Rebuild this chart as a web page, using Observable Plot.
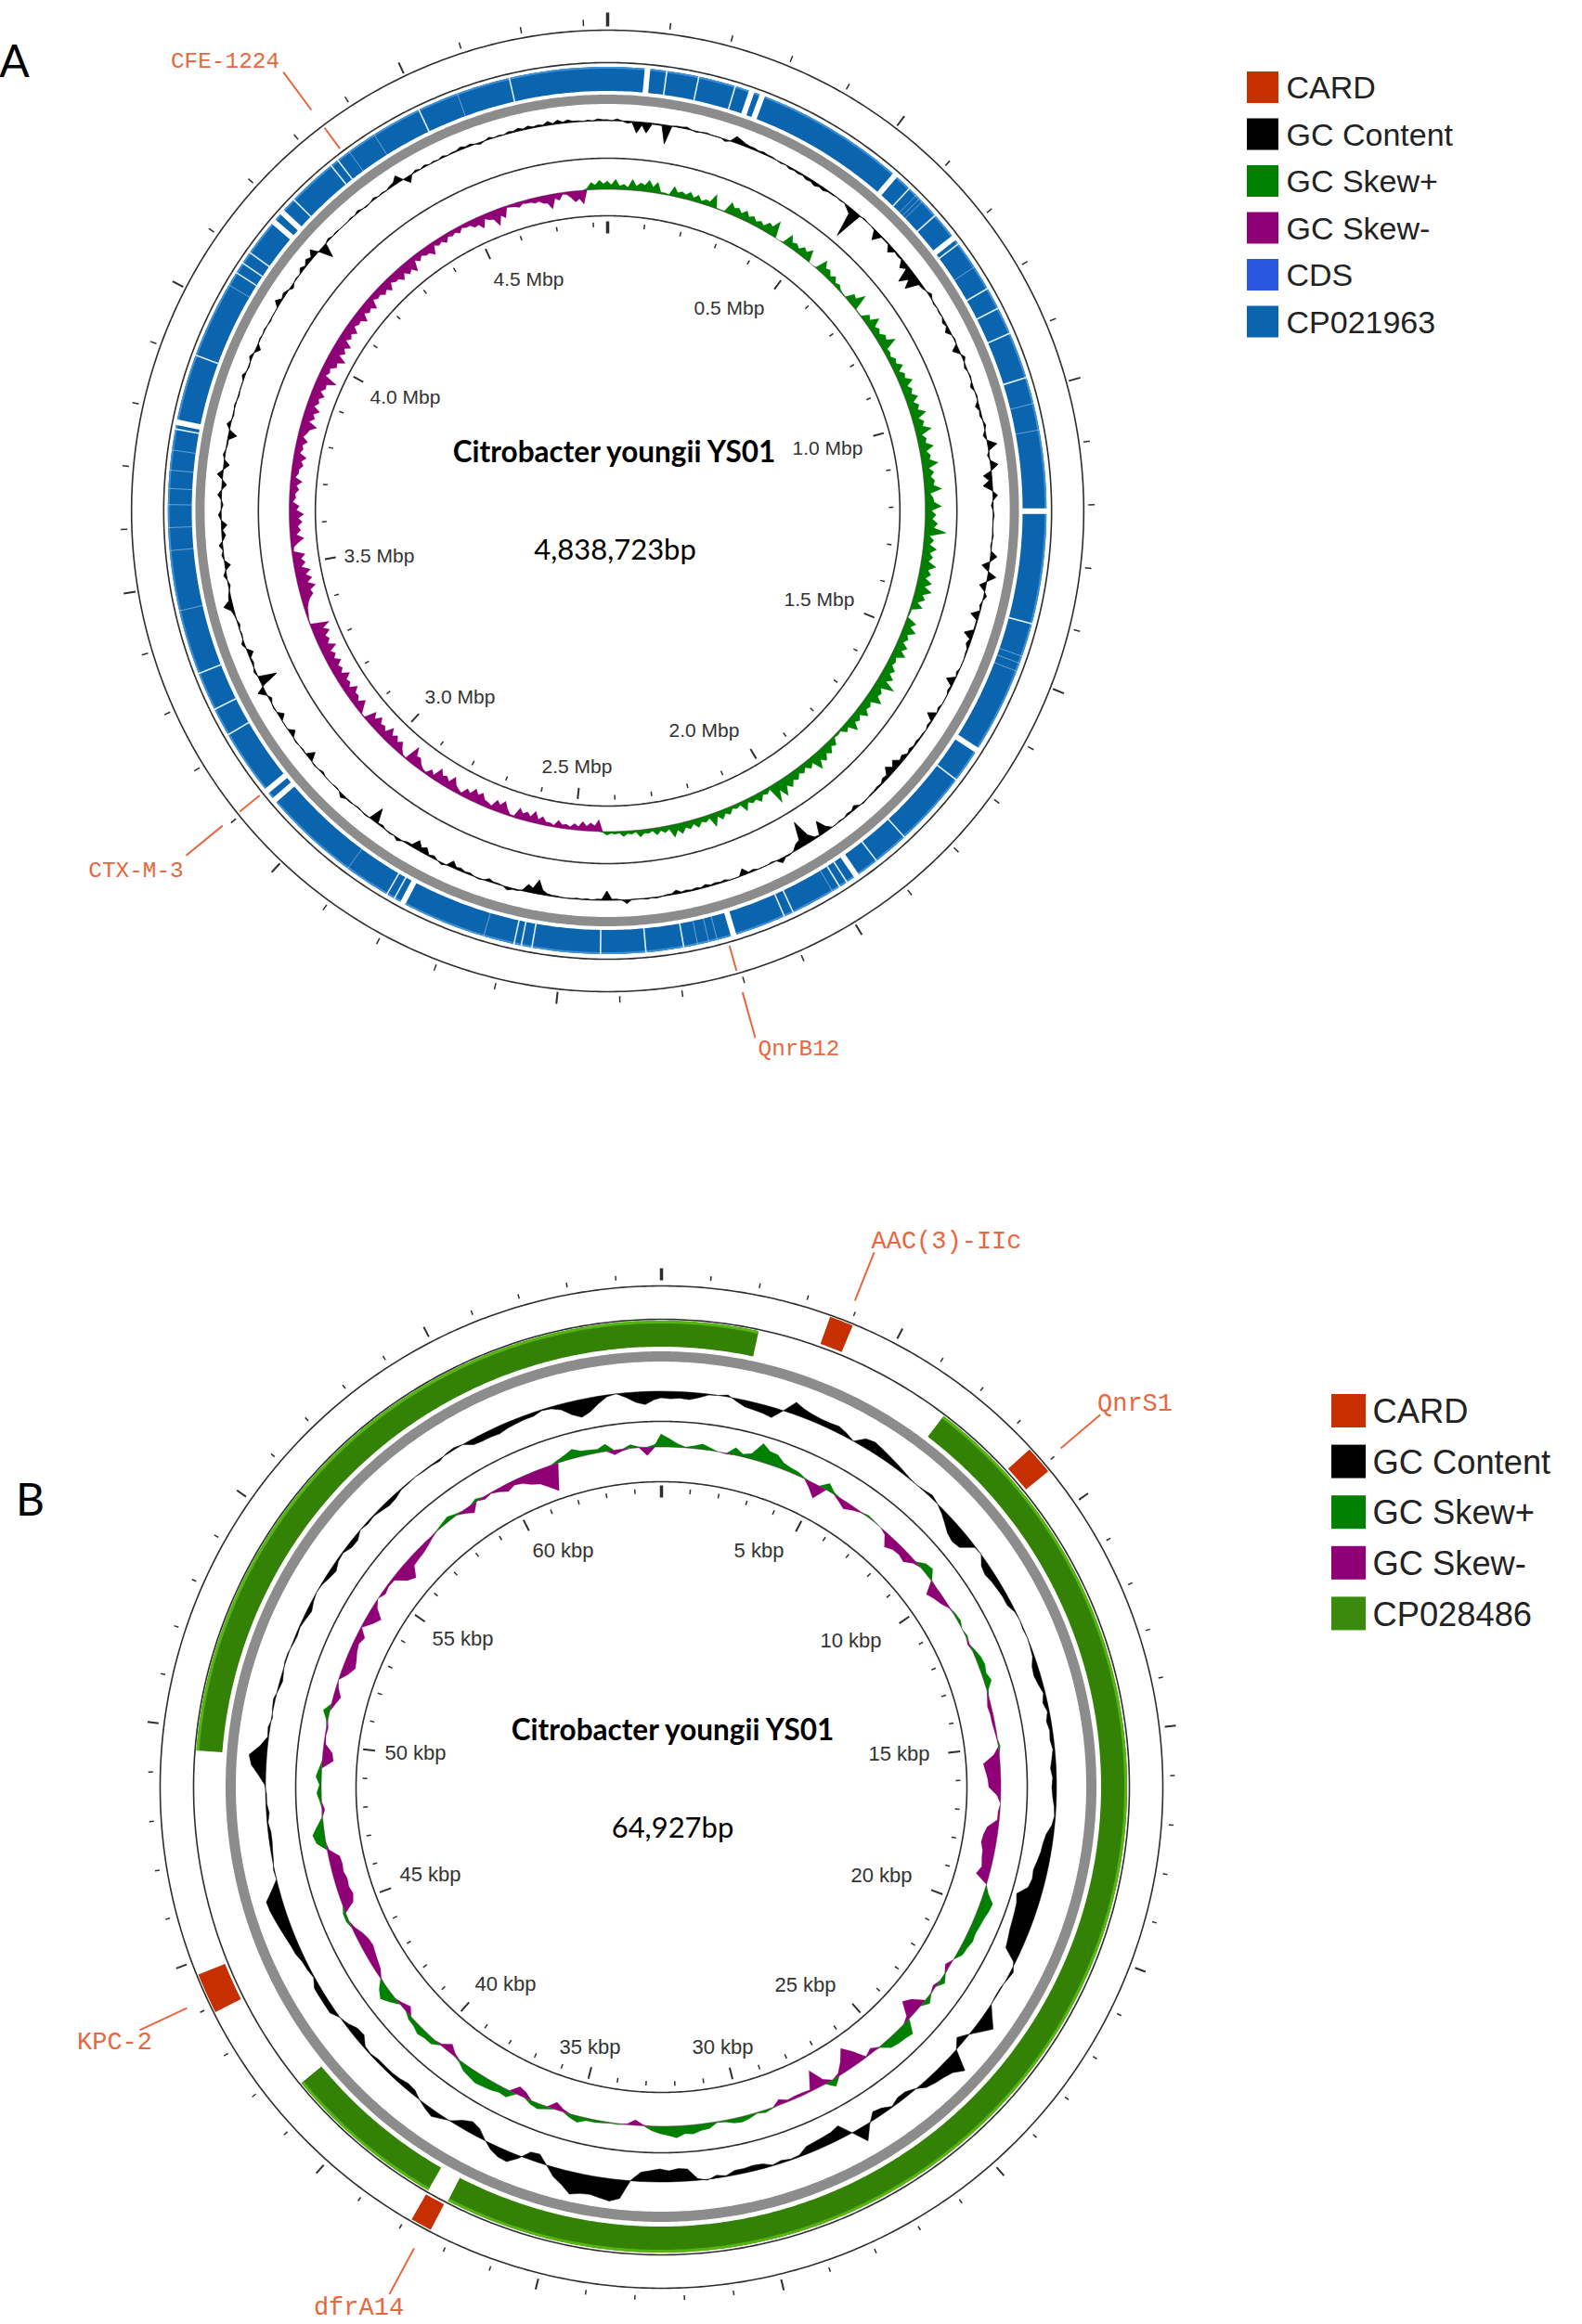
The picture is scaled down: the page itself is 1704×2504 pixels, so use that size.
<!DOCTYPE html>
<html>
<head>
<meta charset="utf-8">
<script src="https://cdn.jsdelivr.net/npm/d3@7"></script>
<script src="https://cdn.jsdelivr.net/npm/@observablehq/plot@0.6"></script>
<style>html,body{margin:0;padding:0;background:#fff}svg{display:block}</style>
</head>
<body>
<div id="chart"></div>
<script>
// ---------- Genome A: peaks per 20 kbp and the troughs that lie between them ----------
const lengthA = 4838.723;
const binA = 10;
const skewPeaksA = [9,11,6,12,9,13,12,2,11,7,9,8,6,15,1,13,10,11,9,8,11,18,0,13,8,10,13,0,14,9,8,5,1,10,18,1,9,15,9,11,18,6,8,12,10,15,11,14,12,17,12,18,10,16,11,18,12,12,19,9,18,12,14,24,11,15,12,17,13,16,18,13,13,2,12,15,10,13,15,8,12,15,22,12,18,10,14,10,15,8,3,9,12,14,18,10,9,11,14,19,22,6,10,7,12,5,8,10,15,7,10,9,12,14,7,8,5,8,4,6,3,4,
-13,-9,-10,-7,-5,-8,-4,-9,-13,-10,-12,-2,-14,-12,-6,-13,-14,-10,-5,-15,-11,-15,-8,-3,-11,-19,-2,-12,-13,-16,-11,-15,-14,-1,-13,-10,-15,-11,-16,-12,-15,-13,-18,-14,-18,-21,-1,-3,-6,-14,-19,-17,-17,-13,-14,-3,-15,-12,-14,-16,-11,-7,-10,-13,-8,-12,-14,-9,-12,-9,-18,-13,-16,-12,-15,-13,-22,-10,-14,-20,-15,-17,-12,-14,-10,-15,-11,-14,-8,-11,-13,-9,-14,-13,-16,-9,-8,-13,-7,-9,-6,-7,-5,-9,-14,-8,-18,-12,-3,-6,-4,-6,-8,-16,-8,-3,-12,-15,8,10];
const skewTroughsA = [5,4,3,5,7,6,2,1,5,5,4,3,5,1,1,8,6,6,5,5,9,0,1,6,5,7,0,1,7,4,3,2,1,8,1,1,6,6,6,9,5,4,6,5,8,7,8,7,9,7,9,6,8,7,9,7,8,10,6,10,7,8,10,6,7,8,8,9,8,9,9,6,2,1,7,7,6,8,6,6,8,9,8,10,7,8,6,7,5,2,2,6,8,9,6,5,6,8,9,9,3,4,5,4,3,3,5,5,4,5,5,6,7,4,4,3,4,2,3,2,2,1,
-6,-5,-4,-3,-4,-2,-4,-5,-6,-7,-2,-7,-8,-4,-7,-9,-7,-3,-8,-7,-9,-4,-2,-6,-10,-1,-6,-8,-9,-7,-9,-8,-1,-7,-6,-9,-7,-9,-8,-9,-9,-9,-10,-11,-12,-1,-2,-4,-9,-12,-11,-11,-8,-9,-2,-8,-7,-9,-10,-8,-4,-6,-7,-5,-8,-9,-6,-7,-6,-11,-8,-10,-8,-10,-9,-12,-7,-8,-12,-10,-11,-8,-9,-7,-9,-7,-9,-5,-7,-8,-6,-9,-8,-10,-5,-5,-8,-4,-5,-4,-4,-3,-5,-8,-5,-9,-8,-2,-4,-3,-4,-5,-9,-5,-2,-7,-9,2,5,6];
const gcPeaksA = [1,2,-2,-12,-11,-1,-20,1,2,-1,1,0,-2,7,3,2,2,1,-1,-2,-2,-3,-4,-3,-1,-1,-3,-32,1,0,-10,-1,-7,-2,-8,-18,-17,-2,3,-1,-1,-3,-5,1,-7,3,-2,1,-3,1,-4,-2,2,-3,10,-2,8,-9,-10,5,-2,1,0,1,-1,7,-8,9,-7,3,-2,-9,-1,-10,-4,-1,0,-2,-9,-2,0,-2,-9,-2,-1,-2,-3,-5,-9,-10,-4,-2,-1,1,-4,-2,-1,0,-15,-2,-27,-6,1,5,-1,0,-2,-7,0,-2,-2,-3,-2,-2,-4,-1,1,1,0,4,-1,-10,
-1,-1,-1,0,-1,-2,-15,-8,1,3,-1,-3,1,-2,-3,-7,2,-3,-7,-10,-2,3,1,-2,-16,1,-1,1,4,-1,0,-2,1,-9,-1,1,-6,0,-6,1,-3,8,-20,2,-2,-6,3,-1,-2,1,10,2,-2,3,-6,2,4,-4,-6,3,-2,4,-5,6,-6,2,-1,-9,4,-1,1,-1,0,3,-1,3,-5,1,1,-1,0,6,3,-3,1,4,5,8,-15,2,1,0,1,2,-1,2,1,2,8,-7,2,2,1,2,1,3,2,-2,2,1,2,3,3,2,4,4,3,1,1,2];
const gcTroughsA = [0,0,-1,-3,-1,-1,0,1,0,0,0,0,0,5,2,1,1,0,0,-1,-1,-2,-2,-1,0,0,-6,-1,0,-1,-1,-1,-1,-1,-3,-8,-3,0,0,0,0,-1,0,0,-1,0,0,0,0,0,-1,0,0,0,1,0,1,-3,-1,0,0,0,0,0,0,1,-1,1,-1,0,0,-1,-1,-2,-1,0,0,0,-1,0,0,0,-1,0,-1,-1,-1,-3,-4,-3,-1,-1,0,0,-1,0,0,-5,-1,-8,-8,-1,1,0,0,0,-1,0,0,-1,-1,-1,-1,-1,-1,0,0,0,0,0,-1,-1,0,0,0,0,-1,-5,-5,-1,1,0,-1,0,0,-1,-2,0,0,-1,-4,-2,0,0,0,-1,0,0,0,1,0,0,0,0,0,0,0,0,0,0,0,0,1,-2,0,0,-1,0,0,0,0,3,3,0,0,0,0,0,-1,-1,0,0,0,0,0,0,0,0,-1,0,0,0,0,0,0,0,0,0,0,0,0,0,0,1,1,0,0,1,2,-2,0,0,0,0,0,0,0,0,0,3,0,0,0,0,0,0,1,1,0,0,0,0,1,1,1,1,1,1,1,0,0,1];
const interleave = (peaks,troughs) => peaks.flatMap((v,i) => [v,troughs[i]]);
const skewA = interleave(skewPeaksA,skewTroughsA);
const gcA = interleave(gcPeaksA,gcTroughsA);
const wideGapsA = [70,257,277,549,699,1210,1649,1955,2195,2793,3082,3103,3784,4175,4197];
const thinGapsA = [104,161,227,583,648,712,805,844,892,974,1408,1712,1847,1911,1975,1990,2083,2100,2285,2352,2432,2553,2572,2585,2810,2825,3222,3272,3340,3772,3905,4065,4085,4107,4227,4315,4330,4497,4665];
const faintGapsA = [600,608,615,761,1021,1068,1467,1480,1495,2005,2225,2240,2260,2640,2907,3454,3560,3600,3640,3668,3700,3735,4040,4355,4408,4570];
const resistNamesA = ["CFE-1224","CTX-M-3","QnrB12"];
const resistPosA = [4345,3105,2207];
const tickLabelsA = ["0.5 Mbp","1.0 Mbp","1.5 Mbp","2.0 Mbp","2.5 Mbp","3.0 Mbp","3.5 Mbp","4.0 Mbp","4.5 Mbp"];
const legendNamesA = ["CARD","GC Content","GC Skew+","GC Skew-","CDS","CP021963"];

// ---------- Genome B (values per 0.25 kbp bin) ----------
const lengthB = 64.927;
const binB = 0.25;
const skewB = [14,9,4,1,3,6,3,0,-1,8,3,6,20,14,13,7,5,4,1,-7,-15,8,2,-4,-8,-4,-1,2,1,0,-3,-13,-9,-8,-10,-3,7,9,1,-13,-9,-6,-1,2,3,0,2,-2,3,6,7,5,8,2,-2,-4,-3,-3,-2,-1,2,-6,-18,-16,-14,-13,-4,0,-2,-2,-12,-15,-16,-13,-12,-10,-14,0,5,13,12,10,9,8,9,7,6,0,-5,1,6,-3,1,6,-12,-18,-4,14,12,11,9,1,-5,-1,-14,-24,-12,-3,8,-6,-21,-2,-3,-3,-2,-6,1,3,1,4,6,5,2,1,6,7,10,9,13,10,8,5,-1,-6,-1,1,1,2,3,3,7,4,-3,-8,3,6,4,-6,-9,8,7,9,10,11,9,7,2,-3,-9,-2,6,6,8,5,4,-7,-3,7,13,8,-1,-6,-8,-10,-12,-11,-8,-3,3,3,-12,-15,-13,-14,-12,-13,-12,-2,10,13,7,1,-3,2,5,2,6,3,-12,-10,-2,-1,-2,2,7,-4,-8,-3,0,-8,-13,-11,-8,-6,-9,-1,-9,-15,-5,0,-4,-2,-3,-14,-19,-9,-8,-7,-5,-2,1,3,5,2,-4,-9,3,-3,-1,-4,-8,-5,-7,-12,-15,-22,-29,3,6,10,6,5,4,8,-5,-2,4,1,-9,3];
const gcB = [-7,-8,-7,-8,-5,-1,0,2,-3,-7,-8,-9,-11,0,13,9,7,6,6,7,4,0,9,11,9,7,5,3,1,0,1,3,0,-4,-9,-14,-16,-14,-1,0,-7,-9,-7,-6,-5,-5,-1,0,-1,0,-1,-2,-6,-7,-5,-2,-5,-2,-5,-3,-4,-2,-4,-6,-4,-5,-4,-2,-1,-3,-8,-10,-11,-13,-15,-14,-16,-26,-23,-22,-21,-20,-18,-16,-2,3,1,-1,-1,0,8,17,8,-1,-8,0,22,14,11,9,6,-1,-5,-5,-1,-6,-8,2,16,0,-14,-11,-10,-9,-8,-2,-1,-3,-1,-5,-6,-5,-5,-1,-3,1,-2,-13,-14,-12,-14,-12,-10,-1,20,24,22,20,21,24,16,10,0,-9,-8,3,11,10,6,-1,-9,-12,-8,-1,3,7,4,0,-5,-6,-4,-3,-3,-3,-1,-2,-9,-8,-3,0,6,6,6,6,1,3,4,7,8,10,12,14,16,17,8,0,1,-1,-2,-3,-3,-1,-3,-1,-1,1,8,16,19,8,1,2,-1,1,2,-1,-3,-1,1,1,-1,-2,-1,-3,-5,-2,0,-1,-4,-6,-2,-1,-5,-5,0,-2,-1,-3,-5,-4,-1,-1,0,-1,-1,-2,1,2,0,-6,-7,-7,-8,-6,-5,-4,-4,-1,-2,-6,-14,-19,-15,-8,-2,0,-5,-11,-14,-9];
const bandStartsB = [49.5,6.73,37.87];
const bandEndsB = [67.107,37.37,41.57];
const cardNamesB = ["AAC(3)-IIc","QnrS1","dfrA14","KPC-2"];
const cardPosB = [3.82,8.87,37.64,44.28];
const cardLenB = [0.5,0.6,0.45,0.85];
const leaderPosB = [3.91,8.96,37.55,44.19];
const tickLabelsB = ["5 kbp","10 kbp","15 kbp","20 kbp","25 kbp","30 kbp","35 kbp","40 kbp","45 kbp","50 kbp","55 kbp","60 kbp"];
const legendNamesB = ["CARD","GC Content","GC Skew+","GC Skew-","CP028486"];

// ---------- Layout and styling ----------
const C = {card:"#c62f00",gc:"#000",plus:"#008000",minus:"#8f0077",cds:"#2a57e0",a:"#0b64ae",b:"#338205",grey:"#8c8c8c",line:"#2e2e2e",orange:"#e8673c",text:"#333"};
const legendColorsA = [C.card,C.gc,C.plus,C.minus,C.cds,C.a];
const legendColorsB = [C.card,C.gc,C.plus,C.minus,"#3a8a0e"];

const layoutA = {H:1250,cx:654,cy:550,sx:0.99,len:lengthA,bin:binA,skew:skewA,gc:gcA,
  circles:[518,483,380,318],band:[452,478],grey:[438,448],gcBase:420,skewBase:346,
  minor:100,major:500,outer:[523,530,521,534,522,537],inner:[306,311,300,312,299,312],
  tickLabelFont:21,
  tickLabelXY:[[785,332],[891,483],[882,646],[758,787],[621,826],[495,751],[408,599],[436,428],[569,301]],
  title:[661,487],sub:[662,593],titleFont:31.5,subFont:31,titles:["Citrobacter youngii YS01","4,838,723bp"],
  letter:["A",15,67],
  legend:{x:1343,w:34,h:34,y:77,step:50.5,tx:1385,font:34,names:legendNamesA,colors:legendColorsA}};
const layoutB = {H:1254,cx:712,cy:675,sx:1,len:lengthB,bin:binB,skew:skewB,gc:gcB,
  circles:[540,504,394,329],band:[474,502],grey:[458,469],gcBase:426,skewBase:366,
  minor:1,major:5,outer:[548,553,546,558,546,559],inner:[317,322,311,324,312,325],
  tickLabelFont:22,
  tickLabelXY:[[817,420],[916,517],[968,639],[949,770],[867,888],[778,955],[635,955],[544,887],[463,769],[447,638],[498,515],[606,420]],
  title:[724,614],sub:[724,720],titleFont:31.5,subFont:31,titles:["Citrobacter youngii YS01","64,927bp"],
  letter:["B",32,367],
  legend:{x:1434,w:37,h:36,y:252,step:54.6,tx:1478,font:36.3,names:legendNamesB,colors:legendColorsB}};

function chart(L, extra){
  const ang = p => p / L.len * 2 * Math.PI;
  const X = (p,r) => r * Math.sin(ang(p));
  const Y = (p,r) => -r * Math.cos(ang(p));
  const ox = v => (v - L.cx) / L.sx, oy = v => v - L.cy;
  const sweep = (a,b) => { const n = Math.max(2,Math.ceil((b-a)/L.len*720)); return d3.range(n+1).map(i => a+(b-a)*i/n); };
  const full = sweep(0,L.len);
  const band = (a,b,r0,r1,fill) => Plot.area(sweep(a,b),{x1:p=>X(p,r0),y1:p=>Y(p,r0),x2:p=>X(p,r1),y2:p=>Y(p,r1),fill,curve:"linear"});
  const circle = r => Plot.line(full,{x:p=>X(p,r),y:p=>Y(p,r),stroke:C.line,strokeWidth:1.6,curve:"linear"});
  const closed = (arr,f) => arr.map((v,i)=>({p:i*L.bin,v:f(v)})).concat([{p:L.len,v:f(arr[0])}]);
  const wiggle = (data,base,fill,sw) => Plot.area(data,{x1:d=>X(d.p,base),y1:d=>Y(d.p,base),x2:d=>X(d.p,base+d.v),y2:d=>Y(d.p,base+d.v),fill,stroke:fill,strokeWidth:sw,curve:"linear"});
  const spokes = (ps,r0,r1,o) => Plot.link(ps,{x1:p=>X(p,r0),y1:p=>Y(p,r0),x2:p=>X(p,r1),y2:p=>Y(p,r1),...o});

  const minorTicks = d3.range(0,L.len,L.minor).filter(p => Math.abs(p/L.major - Math.round(p/L.major)) > 1e-6);
  const majorTicks = d3.range(L.major,L.len,L.major);
  const [om0,om1,oM0,oM1,oZ0,oZ1] = L.outer, [im0,im1,iM0,iM1,iZ0,iZ1] = L.inner;
  const lg = L.legend;
  const legendRows = lg.names.map((n,i)=>({n,c:lg.colors[i],i}));

  const marks = [
    ...L.circles.map(circle),
    ...extra.bands(band),
    band(0,L.len,L.grey[0],L.grey[1],C.grey),
    ...extra.gaps(spokes),
    wiggle(closed(L.gc,v=>v),L.gcBase,C.gc,extra.gcStroke),
    wiggle(closed(L.skew,v=>Math.max(v,0)),L.skewBase,C.plus,0.2),
    wiggle(closed(L.skew,v=>Math.min(v,0)),L.skewBase,C.minus,0.2),
    spokes(minorTicks,om0,om1,{stroke:C.line,strokeWidth:1.5}),
    spokes(majorTicks,oM0,oM1,{stroke:C.line,strokeWidth:2}),
    spokes([0],oZ0,oZ1,{stroke:C.line,strokeWidth:3.5}),
    spokes(minorTicks,im0,im1,{stroke:C.line,strokeWidth:1.5}),
    spokes(majorTicks,iM0,iM1,{stroke:C.line,strokeWidth:2}),
    spokes([0],iZ0,iZ1,{stroke:C.line,strokeWidth:3.5}),
    ...extra.overlay(spokes,band,ox,oy),
    Plot.text(extra.tickLabels,{x:(d,i)=>ox(L.tickLabelXY[i][0]),y:(d,i)=>oy(L.tickLabelXY[i][1]),text:d=>d,fontSize:L.tickLabelFont,fontFamily:"Liberation Sans",fill:C.text,textAnchor:"middle",lineAnchor:"middle"}),
    Plot.text([L.titles[0]],{x:ox(L.title[0]),y:oy(L.title[1]),text:d=>d,fontSize:L.titleFont,fontWeight:700,fontFamily:"Lato",fill:"#000",textAnchor:"middle",lineAnchor:"middle"}),
    Plot.text([L.titles[1]],{x:ox(L.sub[0]),y:oy(L.sub[1]),text:d=>d,fontSize:L.subFont,fontFamily:"Lato",fill:"#000",textAnchor:"middle",lineAnchor:"middle"}),
    Plot.text([L.letter[0]],{x:ox(L.letter[1]),y:oy(L.letter[2]),text:d=>d,fontSize:48,fontFamily:"Lato",fill:"#000",textAnchor:"middle",lineAnchor:"middle"}),
    Plot.rect(legendRows,{x1:ox(lg.x),x2:ox(lg.x+lg.w),y1:d=>oy(lg.y+d.i*lg.step),y2:d=>oy(lg.y+d.i*lg.step+lg.h),fill:"c"}),
    Plot.text(legendRows,{x:ox(lg.tx),y:d=>oy(lg.y+d.i*lg.step+lg.h/2+1),text:"n",fontSize:lg.font,fontFamily:"Liberation Sans",fill:"#222",textAnchor:"start",lineAnchor:"middle"})
  ];
  return Plot.plot({
    width:1704,height:L.H,margin:0,
    x:{domain:[-L.cx/L.sx,(1704-L.cx)/L.sx],range:[0,1704],axis:null},
    y:{domain:[-L.cy,L.H-L.cy],range:[0,L.H],axis:null},
    color:{type:"identity"},
    style:{background:"#fff"},
    marks
  });
}

const plotA = chart(layoutA,{
  gcStroke:0.8,
  tickLabels:tickLabelsA,
  bands:band=>[band(0,lengthA,452,478,C.a),band(0,lengthA,476,478,"#3d8fd6")],
  gaps:spokes=>[
    spokes(wideGapsA,451,479,{stroke:"#fff",strokeWidth:6}),
    spokes(thinGapsA,451,479,{stroke:"#dfeefa",strokeWidth:1.6}),
    spokes(faintGapsA,451,479,{stroke:"#fff",strokeWidth:1,strokeOpacity:0.4})
  ],
  overlay:(spokes,band,ox,oy)=>[
    spokes(resistPosA,487,515,{stroke:C.orange,strokeWidth:2}),
    spokes(resistPosA,539,590,{stroke:C.orange,strokeWidth:2}),
    Plot.text(resistNamesA,{x:(d,i)=>ox([242,146,860][i]),y:(d,i)=>oy([65,937,1129][i]),text:d=>d,fontSize:24.4,fontFamily:"Liberation Mono",fill:C.orange,textAnchor:"middle",lineAnchor:"middle"})
  ]
});

const plotB = chart(layoutB,{
  gcStroke:0.5,
  tickLabels:tickLabelsB,
  bands:band=>[
    ...bandStartsB.map((a,i)=>band(a,bandEndsB[i],474,502,C.b)),
    ...bandStartsB.map((a,i)=>band(a,bandEndsB[i],499,502,"#55b40e")),
    ...cardPosB.map((p,i)=>band(p-cardLenB[i]/2,p+cardLenB[i]/2,507,538,C.card))
  ],
  gaps:()=>[],
  overlay:(spokes,band,ox,oy)=>[
    spokes(leaderPosB,564,620,{stroke:C.orange,strokeWidth:2}),
    Plot.text(cardNamesB,{x:(d,i)=>ox([1019,1222,386,123][i]),y:(d,i)=>oy([86,261,1235,949][i]),text:d=>d,fontSize:27,fontFamily:"Liberation Mono",fill:C.orange,textAnchor:"middle",lineAnchor:"middle"})
  ]
});

document.getElementById("chart").append(plotA,plotB);
</script>
</body>
</html>
